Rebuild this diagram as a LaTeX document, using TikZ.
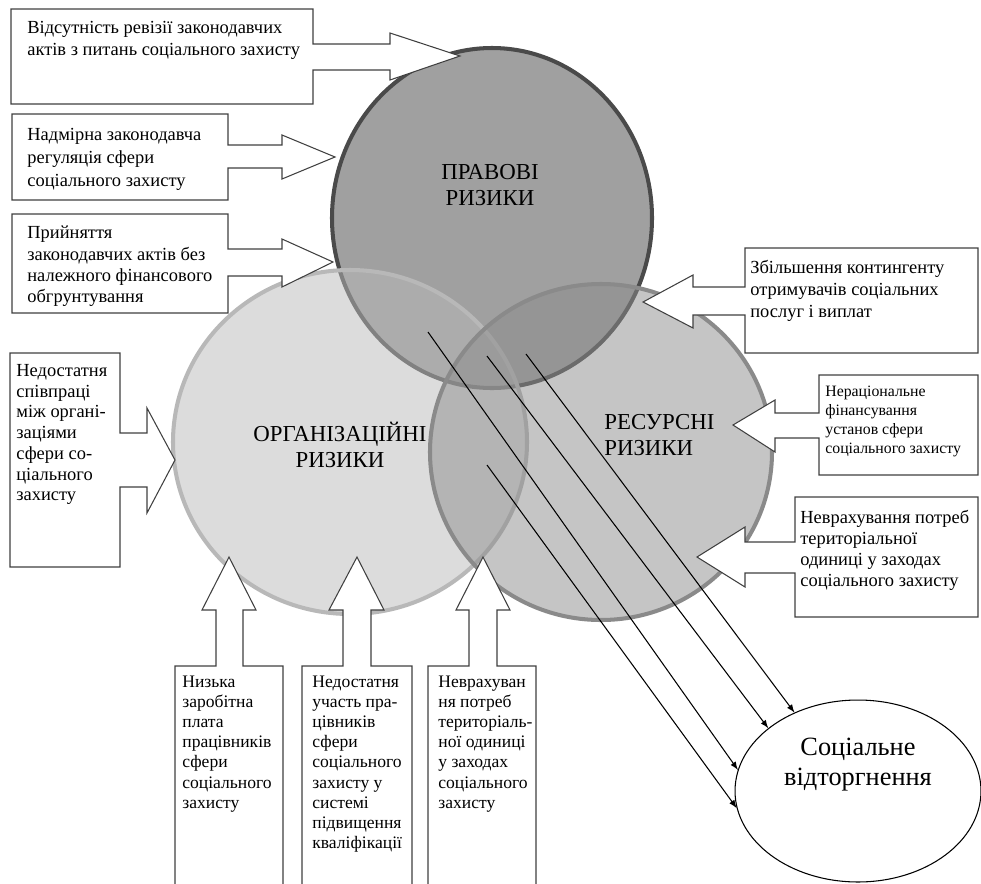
\documentclass[tikz,border=0pt]{standalone}
\usepackage{fontspec}
\setmainfont{Liberation Serif}
\usetikzlibrary{arrows,shapes}
\definecolor{pravfill}{RGB}{160,160,160}
\definecolor{pravline}{RGB}{74,74,74}
\definecolor{orgfill}{RGB}{185,185,185}
\definecolor{orgline}{RGB}{184,184,184}
\definecolor{resfill}{RGB}{140,140,140}
\definecolor{resline}{RGB}{138,138,138}

\begin{document}
\begin{tikzpicture}[x=0.02cm,y=-0.02cm,
    callout/.style={draw=black!75,fill=white,line width=0.6pt},
    boxtext/.style={align=left,anchor=north west,inner sep=0pt,font=\fontsize{10.5}{12.5}\selectfont},
    risk/.style={line width=2.3pt},
    risktext/.style={align=center,inner sep=0pt,font=\fontsize{13}{14.7}\selectfont}]

    \useasboundingbox (0,0) rectangle (981,883);
    \clip (0,0) rectangle (981,883);

    % Risk circles
    \draw[risk,draw=pravline,fill=pravfill] (492,218) ellipse [x radius=160,y radius=170];
    \draw[risk,draw=orgline,fill=orgfill,fill opacity=0.5] (350,442) ellipse [x radius=177,y radius=172];
    \draw[risk,draw=resline,fill=resfill,fill opacity=0.5] (601,452) ellipse [x radius=171,y radius=168];

    % Callouts (left)
    \draw[callout] (11,9) -- (313,9) -- (313,44) -- (390,44) -- (390,33) -- (460,56) -- (390,80) -- (390,70) -- (313,70) -- (313,104) -- (11,104) -- cycle;
    \draw[callout] (12,114) -- (228,114) -- (228,145) -- (282,145) -- (282,135) -- (335,157) -- (282,179) -- (282,168) -- (228,168) -- (228,200) -- (12,200) -- cycle;
    \draw[callout] (12,214) -- (228,214) -- (228,249) -- (282,249) -- (282,239) -- (333,262) -- (282,287) -- (282,276) -- (228,276) -- (228,313) -- (12,313) -- cycle;
    \draw[callout] (10,353) -- (120,353) -- (120,433) -- (147,433) -- (147,408) -- (175,460) -- (147,513) -- (147,487) -- (120,487) -- (120,567) -- (10,567) -- cycle;

    % Callouts (right)
    \draw[callout] (978,248) -- (745,248) -- (745,287) -- (693,287) -- (693,275) -- (643,302) -- (693,328) -- (693,315) -- (745,315) -- (745,353) -- (978,353) -- cycle;
    \draw[callout] (978,375) -- (819,375) -- (819,413) -- (775,413) -- (775,400) -- (733,425) -- (775,452) -- (775,438) -- (819,438) -- (819,475) -- (978,475) -- cycle;
    \draw[callout] (978,497) -- (795,497) -- (795,542) -- (745,542) -- (745,527) -- (697,557) -- (745,587) -- (745,573) -- (795,573) -- (795,617) -- (978,617) -- cycle;

    % Callouts (bottom)
    \draw[callout] (175,895) -- (175,666) -- (216,666) -- (216,610) -- (202,610) -- (229,557) -- (256,610) -- (243,610) -- (243,666) -- (283,666) -- (283,895) -- cycle;
    \draw[callout] (302,895) -- (302,666) -- (343,666) -- (343,610) -- (329,610) -- (357,557) -- (384,610) -- (371,610) -- (371,666) -- (412,666) -- (412,895) -- cycle;
    \draw[callout] (428,895) -- (428,666) -- (469,666) -- (469,610) -- (456,610) -- (483,557) -- (510,610) -- (497,610) -- (497,666) -- (536,666) -- (536,895) -- cycle;

    % Callout texts
    \node[boxtext] (revizia) at (27,21) {Відсутність ревізії законодавчих\\актів з питань соціального захисту};
    \node[boxtext,font=\fontsize{10.5}{13}\selectfont] (nadmir) at (27,128) {Надмірна законодавча\\регуляція сфери\\соціального захисту};
    \node[boxtext,font=\fontsize{10.5}{12}\selectfont] (pryjn) at (27,226) {Прийняття\\законодавчих актів без\\належного фінансового\\обгрунтування};
    \node[boxtext,font=\fontsize{10.5}{11.8}\selectfont] (spivpr) at (16,364) {Недостатня\\співпраці\\між органі-\\заціями\\сфери со-\\ціального\\захисту};
    \node[boxtext] (kontyng) at (750,260) {Збільшення контингенту\\отримувачів соціальних\\послуг і виплат};
    \node[boxtext,font=\fontsize{9}{10.8}\selectfont] (neraz) at (825,386) {Нераціональне\\фінансування\\установ сфери\\соціального захисту};
    \node[boxtext,font=\fontsize{10.5}{12}\selectfont] (nevrR) at (800,510) {Неврахування потреб\\територіальної\\одиниці у заходах\\соціального захисту};
    \node[boxtext,font=\fontsize{10}{11.4}\selectfont] (zarpl) at (182,676) {Низька\\заробітна\\плата\\працівників\\сфери\\соціального\\захисту};
    \node[boxtext,font=\fontsize{10}{11.4}\selectfont] (uchast) at (312,676) {Недостатня\\участь пра-\\цівників\\сфери\\соціального\\захисту у\\системі\\підвищення\\кваліфікації};
    \node[boxtext,font=\fontsize{10}{11.4}\selectfont] (nevrB) at (438,676) {Неврахуван\\ня потреб\\територіаль-\\ної одиниці\\у заходах\\соціального\\захисту};

    % Circle labels
    \node[risktext] (prav) at (490,185) {ПРАВОВІ\\РИЗИКИ};
    \node[risktext] (org) at (340,445) {ОРГАНІЗАЦІЙНІ\\РИЗИКИ};
    \node[risktext,align=left,anchor=west] (res) at (604,435) {РЕСУРСНІ\\РИЗИКИ};

    % Social exclusion
    \node[ellipse,draw,line width=0.6pt,minimum width=4.92cm,minimum height=3.64cm,inner sep=0pt] (soc) at (858,791) {};
    \node[align=center,inner sep=0pt,font=\fontsize{15}{17}\selectfont] (soctext) at (858,765) {Соціальне\\відторгнення};

    % Flow to social exclusion
    \coordinate (s1) at (428,332);
    \coordinate (s2) at (487,356);
    \coordinate (s3) at (526,354);
    \coordinate (s4) at (487,465);
    \draw[-latex,line width=0.6pt] (s1) -- (soc.170);
    \draw[-latex,line width=0.6pt] (s2) -- (soc.145);
    \draw[-latex,line width=0.6pt] (s3) -- (soc.129);
    \draw[-latex,line width=0.6pt] (s4) -- (soc.188);
\end{tikzpicture}
\end{document}
